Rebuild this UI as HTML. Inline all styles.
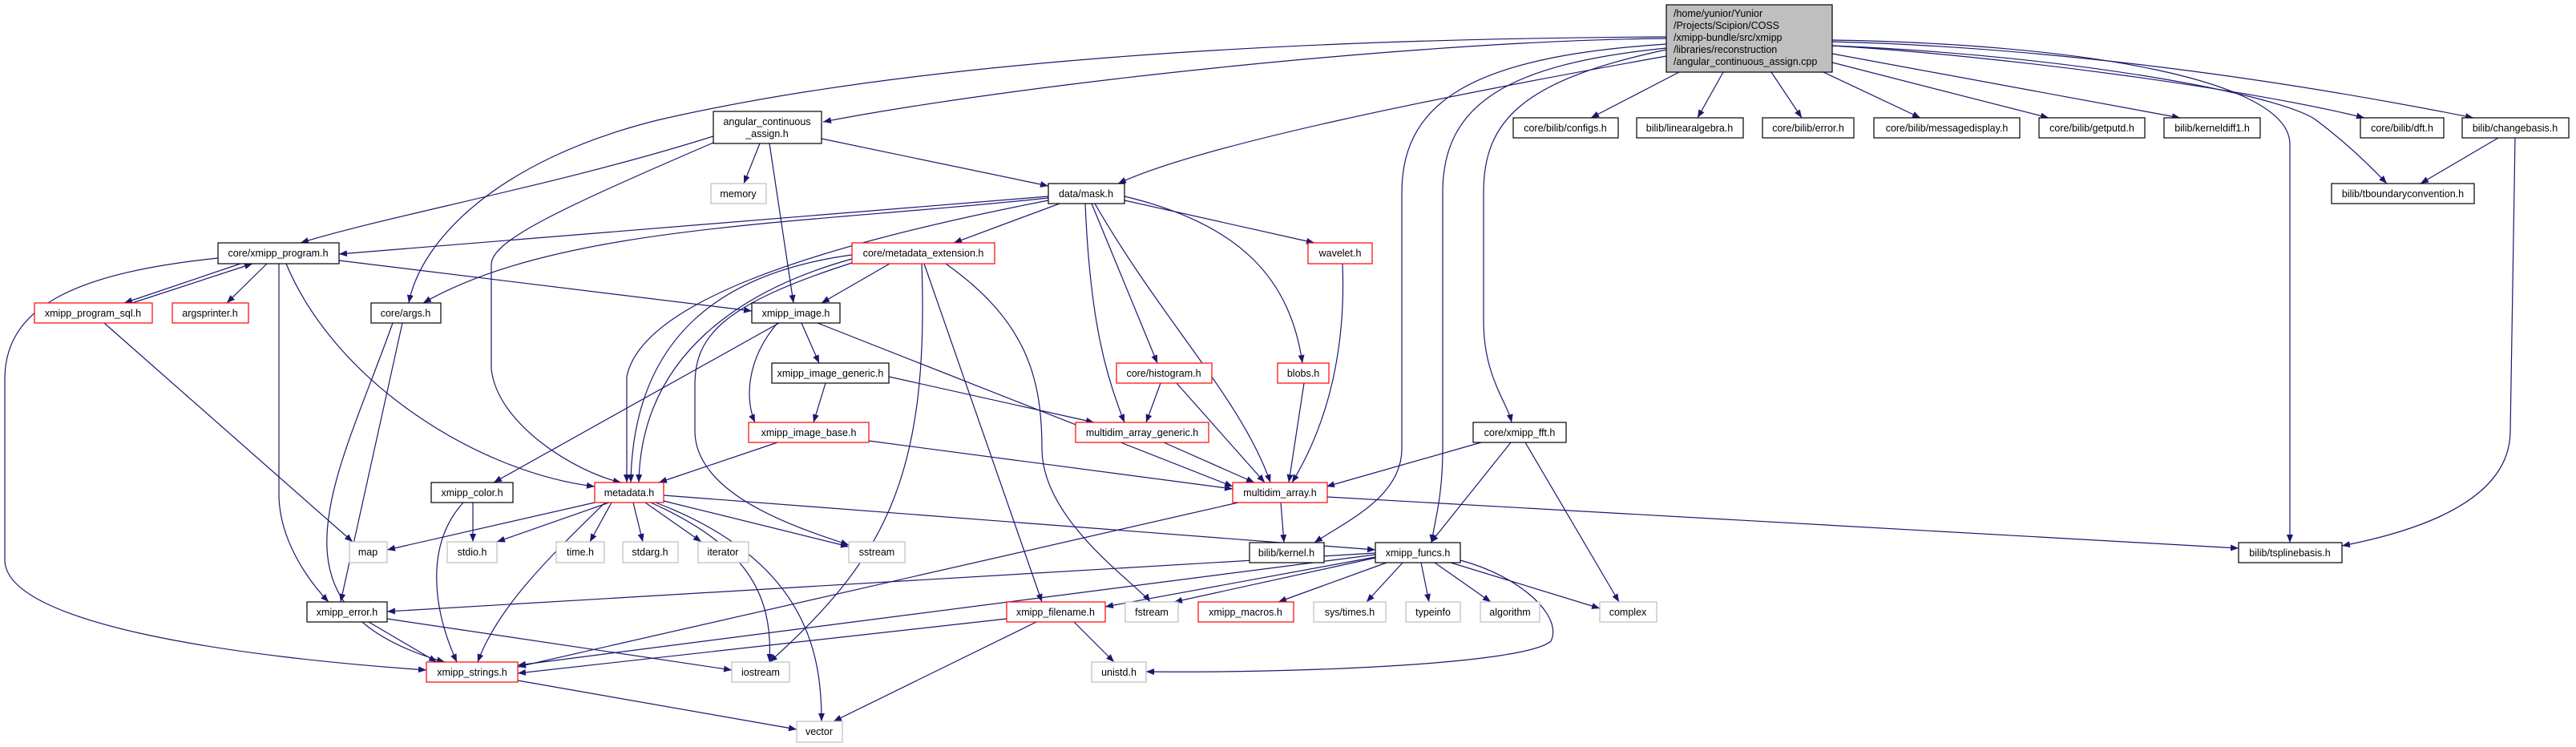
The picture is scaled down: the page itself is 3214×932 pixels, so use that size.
<!DOCTYPE html>
<html><head><meta charset="utf-8"><style>
html,body{margin:0;padding:0;background:#fff}
svg{display:block}
text{font-family:"Liberation Sans",Arial,sans-serif;font-size:12.5px;fill:#000}
.e{fill:none;stroke:#191970;stroke-width:1.2}
.b{fill:#fff;stroke:#000;stroke-width:1.2}
.r{fill:#fff;stroke:#ff0000;stroke-width:1.2}
.g{fill:#fff;stroke:#bfbfbf;stroke-width:1.2}
</style></head><body>
<svg width="3214" height="932" viewBox="0 0 3214 932" xmlns="http://www.w3.org/2000/svg">
<defs><marker id="a" markerWidth="10" markerHeight="8" refX="10" refY="4" orient="auto" markerUnits="userSpaceOnUse"><path d="M0,0 L10,4 L0,8 z" fill="#191970"/></marker></defs>
<g class="e" marker-end="url(#a)">
<path d="M2079,48 C1800,50 1300,100 1027,152"/>
<path d="M2079,46 C1300,50 950,120 820,150 C620,200 525,300 510,378"/>
<path d="M2079,70 C1800,120 1500,180 1395,229"/>
<path d="M2079,55 C1850,70 1749,120 1749,240 L1749,560 C1749,620 1680,650 1640,677"/>
<path d="M2079,60 C1880,80 1800,130 1800,240 L1800,560 C1800,620 1790,650 1786,677"/>
<path d="M2079,62 C1900,100 1851,150 1851,240 L1851,400 C1851,470 1880,500 1886,527"/>
<path d="M2095,90 L1985,147"/>
<path d="M2150,90 L2118,147"/>
<path d="M2210,90 L2248,147"/>
<path d="M2275,90 L2396,147"/>
<path d="M2286,78 L2556,147"/>
<path d="M2286,67 L2720,147"/>
<path d="M2286,57 C2500,70 2800,110 2950,147"/>
<path d="M2286,52 C2600,60 2900,110 3086,147"/>
<path d="M2286,57 C2600,70 2850,120 2890,150 C2930,180 2960,210 2978,229"/>
<path d="M2286,50 C2600,55 2857,100 2857,180 L2857,677"/>
<path d="M3117,172 L3020,229"/>
<path d="M3138,172 L3132,540 C3130,620 3030,660 2922,681"/>
<path d="M890,170 C700,230 480,270 375,303"/>
<path d="M890,178 C700,260 613,300 613,330 L613,460 C620,530 720,590 775,602"/>
<path d="M948,179 L928,229"/>
<path d="M960,179 L990,378"/>
<path d="M1025,173 L1308,232"/>
<path d="M1308,245 L423,317"/>
<path d="M1308,247 C1000,280 700,280 528,378"/>
<path d="M1308,250 C1000,310 800,380 782,470 L782,602"/>
<path d="M1322,254 L1190,303"/>
<path d="M1403,250 L1640,303"/>
<path d="M1403,245 C1550,280 1610,350 1625,453"/>
<path d="M1362,254 L1444,453"/>
<path d="M1354,254 C1360,400 1380,470 1403,527"/>
<path d="M1366,254 C1450,400 1550,500 1585,602"/>
<path d="M1063,318 C900,340 790,420 787,602"/>
<path d="M1063,323 C930,360 800,440 797,602"/>
<path d="M1110,329 L1025,378"/>
<path d="M1153,329 L1300,751"/>
<path d="M1180,329 C1280,400 1300,470 1300,560 C1300,650 1420,730 1435,751"/>
<path d="M1150,329 C1160,600 1100,700 960,826"/>
<path d="M1063,328 C900,380 867,420 867,480 L867,540 C870,620 1000,660 1059,680"/>
<path d="M300,329 L155,378"/>
<path d="M165,378 L315,329"/>
<path d="M333,329 L283,378"/>
<path d="M423,325 L938,388"/>
<path d="M348,329 L348,620 C350,680 390,730 410,751"/>
<path d="M357,329 C420,480 600,590 742,607"/>
<path d="M272,322 C100,340 8,380 6,470 L6,700 C10,780 300,820 532,836"/>
<path d="M130,403 L440,676"/>
<path d="M502,403 L425,751"/>
<path d="M490,403 C420,600 320,760 555,826"/>
<path d="M1000,403 L1022,453"/>
<path d="M970,403 C930,450 930,500 942,527"/>
<path d="M972,403 L616,602"/>
<path d="M1020,403 L1538,607"/>
<path d="M1030,478 L1015,527"/>
<path d="M1109,470 L1365,527"/>
<path d="M970,552 L822,602"/>
<path d="M1084,550 L1538,610"/>
<path d="M1448,478 L1430,527"/>
<path d="M1468,478 L1578,602"/>
<path d="M1627,478 L1608,602"/>
<path d="M1675,329 C1680,450 1650,540 1612,602"/>
<path d="M1452,552 L1565,602"/>
<path d="M1848,552 L1655,607"/>
<path d="M1885,552 L1785,677"/>
<path d="M1903,552 L2020,751"/>
<path d="M742,627 L483,686"/>
<path d="M760,627 L620,676"/>
<path d="M763,627 L736,676"/>
<path d="M790,627 L802,676"/>
<path d="M805,627 L875,676"/>
<path d="M828,625 L1059,682"/>
<path d="M755,627 C680,700 620,760 596,826"/>
<path d="M812,627 C930,680 965,740 960,826"/>
<path d="M818,627 C1010,700 1025,820 1025,900"/>
<path d="M828,618 L1716,686"/>
<path d="M590,627 L590,676"/>
<path d="M578,627 C530,680 540,760 570,826"/>
<path d="M460,776 L545,826"/>
<path d="M483,772 L913,836"/>
<path d="M646,849 L994,910"/>
<path d="M1598,627 L1602,677"/>
<path d="M1545,627 L646,832"/>
<path d="M1656,620 L2793,684"/>
<path d="M1716,690 L483,763"/>
<path d="M1716,692 L646,830"/>
<path d="M1716,695 L1379,757"/>
<path d="M1716,696 L1465,751"/>
<path d="M1730,702 L1595,751"/>
<path d="M1750,702 L1705,751"/>
<path d="M1773,702 L1783,751"/>
<path d="M1790,702 L1860,751"/>
<path d="M1810,702 L1996,759"/>
<path d="M1822,699 C1900,720 1950,770 1935,800 C1900,830 1600,840 1430,838"/>
<path d="M1256,772 L646,840"/>
<path d="M1340,776 L1390,826"/>
<path d="M1293,776 L1040,900"/>
</g>
<rect x="2079" y="6" width="207" height="84" fill="#bfbfbf" stroke="#000" stroke-width="1.2"/>
<text x="2088" y="21">/home/yunior/Yunior</text>
<text x="2088" y="36">/Projects/Scipion/COSS</text>
<text x="2088" y="51">/xmipp-bundle/src/xmipp</text>
<text x="2088" y="66">/libraries/reconstruction</text>
<text x="2088" y="81">/angular_continuous_assign.cpp</text>
<rect class="b" x="890" y="139" width="135" height="40"/>
<text x="957" y="156" text-anchor="middle">angular_continuous</text>
<text x="957" y="171" text-anchor="middle">_assign.h</text>
<g text-anchor="middle">
<rect class="g" x="887" y="229" width="69" height="25"/><text x="921" y="246">memory</text>
<rect class="b" x="272" y="303" width="151" height="26"/><text x="347" y="320">core/xmipp_program.h</text>
<rect class="r" x="43" y="378" width="147" height="25"/><text x="116" y="395">xmipp_program_sql.h</text>
<rect class="r" x="215" y="378" width="95" height="25"/><text x="262" y="395">argsprinter.h</text>
<rect class="b" x="463" y="378" width="87" height="25"/><text x="506" y="395">core/args.h</text>
<rect class="b" x="938" y="378" width="110" height="25"/><text x="993" y="395">xmipp_image.h</text>
<rect class="b" x="963" y="453" width="146" height="25"/><text x="1036" y="470">xmipp_image_generic.h</text>
<rect class="r" x="934" y="527" width="150" height="25"/><text x="1009" y="544">xmipp_image_base.h</text>
<rect class="b" x="538" y="602" width="102" height="25"/><text x="589" y="619">xmipp_color.h</text>
<rect class="r" x="742" y="602" width="86" height="25"/><text x="785" y="619">metadata.h</text>
<rect class="g" x="436" y="676" width="47" height="26"/><text x="459" y="693">map</text>
<rect class="g" x="558" y="676" width="62" height="26"/><text x="589" y="693">stdio.h</text>
<rect class="g" x="694" y="676" width="60" height="26"/><text x="724" y="693">time.h</text>
<rect class="g" x="777" y="676" width="69" height="26"/><text x="811" y="693">stdarg.h</text>
<rect class="g" x="871" y="676" width="63" height="26"/><text x="902" y="693">iterator</text>
<rect class="g" x="1059" y="676" width="70" height="26"/><text x="1094" y="693">sstream</text>
<rect class="b" x="383" y="751" width="100" height="25"/><text x="433" y="768">xmipp_error.h</text>
<rect class="r" x="532" y="826" width="114" height="25"/><text x="589" y="843">xmipp_strings.h</text>
<rect class="g" x="913" y="826" width="72" height="25"/><text x="949" y="843">iostream</text>
<rect class="g" x="994" y="900" width="57" height="26"/><text x="1022" y="917">vector</text>
<rect class="b" x="1308" y="229" width="95" height="25"/><text x="1355" y="246">data/mask.h</text>
<rect class="r" x="1063" y="303" width="178" height="26"/><text x="1152" y="320">core/metadata_extension.h</text>
<rect class="r" x="1632" y="303" width="80" height="26"/><text x="1672" y="320">wavelet.h</text>
<rect class="r" x="1393" y="453" width="119" height="25"/><text x="1452" y="470">core/histogram.h</text>
<rect class="r" x="1594" y="453" width="64" height="25"/><text x="1626" y="470">blobs.h</text>
<rect class="r" x="1342" y="527" width="166" height="25"/><text x="1425" y="544">multidim_array_generic.h</text>
<rect class="b" x="1838" y="527" width="116" height="25"/><text x="1896" y="544">core/xmipp_fft.h</text>
<rect class="r" x="1538" y="602" width="118" height="25"/><text x="1597" y="619">multidim_array.h</text>
<rect class="b" x="1559" y="677" width="93" height="25"/><text x="1605" y="694">bilib/kernel.h</text>
<rect class="b" x="1716" y="677" width="106" height="25"/><text x="1769" y="694">xmipp_funcs.h</text>
<rect class="r" x="1256" y="751" width="123" height="25"/><text x="1317" y="768">xmipp_filename.h</text>
<rect class="g" x="1404" y="751" width="66" height="25"/><text x="1437" y="768">fstream</text>
<rect class="r" x="1495" y="751" width="119" height="25"/><text x="1554" y="768">xmipp_macros.h</text>
<rect class="g" x="1639" y="751" width="90" height="25"/><text x="1684" y="768">sys/times.h</text>
<rect class="g" x="1754" y="751" width="68" height="25"/><text x="1788" y="768">typeinfo</text>
<rect class="g" x="1847" y="751" width="74" height="25"/><text x="1884" y="768">algorithm</text>
<rect class="g" x="1996" y="751" width="71" height="25"/><text x="2031" y="768">complex</text>
<rect class="g" x="1362" y="826" width="68" height="25"/><text x="1396" y="843">unistd.h</text>
<rect class="b" x="1888" y="147" width="131" height="25"/><text x="1953" y="164">core/bilib/configs.h</text>
<rect class="b" x="2042" y="147" width="133" height="25"/><text x="2108" y="164">bilib/linearalgebra.h</text>
<rect class="b" x="2199" y="147" width="114" height="25"/><text x="2256" y="164">core/bilib/error.h</text>
<rect class="b" x="2338" y="147" width="182" height="25"/><text x="2429" y="164">core/bilib/messagedisplay.h</text>
<rect class="b" x="2544" y="147" width="132" height="25"/><text x="2610" y="164">core/bilib/getputd.h</text>
<rect class="b" x="2700" y="147" width="120" height="25"/><text x="2760" y="164">bilib/kerneldiff1.h</text>
<rect class="b" x="2945" y="147" width="104" height="25"/><text x="2997" y="164">core/bilib/dft.h</text>
<rect class="b" x="3072" y="147" width="133" height="25"/><text x="3138" y="164">bilib/changebasis.h</text>
<rect class="b" x="2909" y="229" width="178" height="25"/><text x="2998" y="246">bilib/tboundaryconvention.h</text>
<rect class="b" x="2793" y="677" width="129" height="25"/><text x="2857" y="694">bilib/tsplinebasis.h</text>
</g>
</svg>
</body></html>
